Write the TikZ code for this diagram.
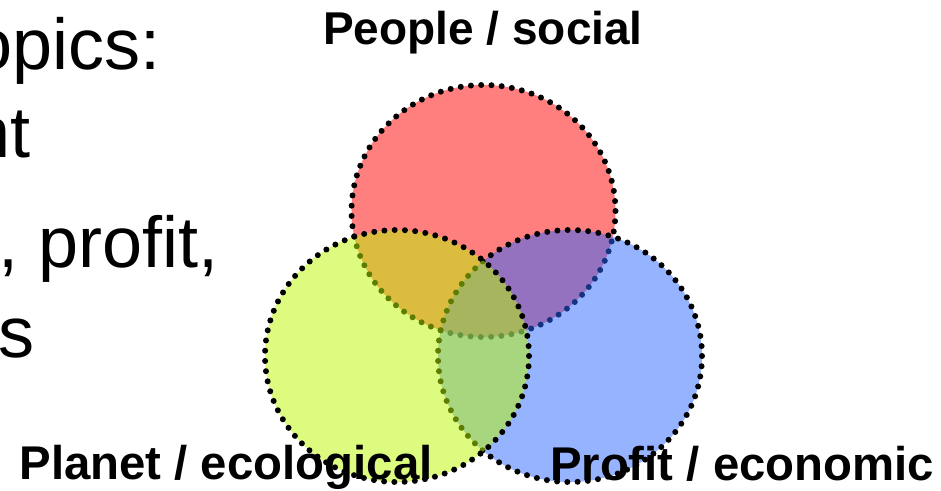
\documentclass[tikz,border=0pt]{standalone}
\usepackage{fontspec}
\setmainfont{Liberation Sans}
\definecolor{cred}{RGB}{255,0,0}
\definecolor{cgreen}{RGB}{187,249,0}
\definecolor{cblue}{RGB}{43,103,255}
\begin{document}
\begin{tikzpicture}[x=0.75pt,y=-0.75pt,
  venn/.style={draw=black, line width=4.5pt, line cap=round,
    dash pattern=on 0pt off 7.7pt, fill opacity=0.5, draw opacity=1},
  biglabel/.style={font=\fontsize{35.5}{42}\selectfont\bfseries, inner sep=0, anchor=base},
  bodytext/.style={font=\fontsize{54}{62}\selectfont, inner sep=0, anchor=base east}]
\useasboundingbox (0,0) rectangle (941,491);
\clip (0,0) rectangle (941,491);
% circles (red, blue, green order)
\path[venn, fill=cred] (483.5,211) ellipse [x radius=132, y radius=126];
\path[venn, fill=cblue] (570,356) ellipse [x radius=132, y radius=126];
\path[venn, fill=cgreen] (397,356) ellipse [x radius=132, y radius=126];
% left body text (cut off)
\node[bodytext] (t1) at (161,70) {topics:};
\node[bodytext] (t2) at (31,158) {nt};
\node[bodytext] (t3) at (219,268) {, profit,};
\node[bodytext] (t4) at (35,357) {s};
% labels
\node[biglabel, font=\fontsize{34.5}{40}\selectfont\bfseries] (people) at (483,45) {People / social};
\node[biglabel] (planet) at (226,479) {Planet / ecological};
\node[biglabel] (profit) at (742,480) {Profit / economic};
\end{tikzpicture}
\end{document}
